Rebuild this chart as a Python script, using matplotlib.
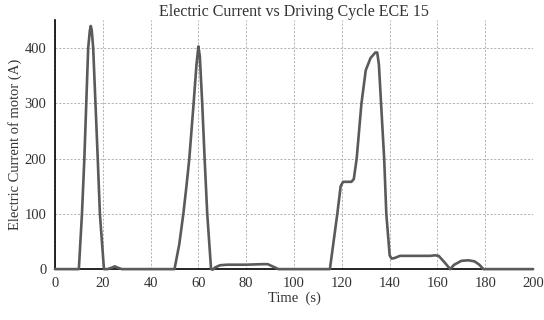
import matplotlib.pyplot as plt

# Zeit (s) und Motorstrom (A)
time_s = [0, 10, 11.3, 12.3, 13.9, 14.6, 15, 15.4, 16, 17.9, 18.8, 20.5,
          22, 24, 25, 26, 28, 49,
          50, 52, 53.7, 55, 56.2, 58, 59.2, 60, 60.6, 61.6, 62.6, 63.7, 65.3,
          66, 67, 69, 72, 80, 87, 89, 91, 93.5, 115,
          118.1, 119.5, 120.5, 124, 125, 126.2, 128.2, 130, 132, 134, 134.8,
          135.5, 136.4, 137.7, 138.6, 140, 140.8, 142, 144.3, 150, 157, 159,
          160.5, 163, 165.3, 167, 170, 172.9, 175.5, 177.5, 179.2, 200]
current_a = [0, 0, 100, 200, 400, 432, 440, 432, 400, 200, 100, 0,
             0, 3, 5, 3, 0, 0,
             0, 45, 100, 150, 200, 300, 370, 403, 385, 300, 200, 100, 0,
             -1, 3, 7, 8, 8, 9, 9, 5, 0, 0,
             100, 150, 158, 158, 163, 200, 300, 360, 382, 392, 392,
             370, 300, 200, 100, 25, 19, 20, 24, 24, 24, 25,
             24, 12, 0, 8, 15, 16, 14, 8, 0, 0]


def main():
    fig, ax = plt.subplots(figsize=(5.44, 3.2), dpi=100)
    plt.rcParams["font.family"] = ["Liberation Serif", "DejaVu Serif"]
    ax.plot(time_s, current_a, color="#5a5a5a", linewidth=1.9,
            solid_joinstyle="round", solid_capstyle="round",
            zorder=5, clip_on=False)

    ax.set_xlim(0, 200)
    ax.set_ylim(0, 450)
    ax.set_xticks(range(0, 201, 20))
    ax.set_yticks(range(0, 401, 100))
    ax.grid(True, color="#a6a6a6", linestyle=(0, (2.5, 2)), linewidth=0.6)
    ax.set_axisbelow(True)
    for side in ("top", "right"):
        ax.spines[side].set_visible(False)
    for side in ("left", "bottom"):
        ax.spines[side].set_color("black")
        ax.spines[side].set_linewidth(1.2)
    ax.tick_params(length=0, pad=6, labelsize=10.5, colors="#333333")
    for lab in ax.get_xticklabels() + ax.get_yticklabels():
        lab.set_family("Liberation Serif")

    ax.set_title("Electric Current vs Driving Cycle ECE 15",
                 family="Liberation Serif", fontsize=11.5, color="#333333", pad=3)
    ax.set_xlabel("Time  (s)", family="Liberation Serif", fontsize=10.5,
                  color="#333333", labelpad=1)
    ax.set_ylabel("Electric Current of motor (A)", family="Liberation Serif",
                  fontsize=10.5, color="#333333", labelpad=2)

    fig.subplots_adjust(left=0.101, right=0.98, bottom=0.159, top=0.936)
    fig.savefig("out.png", dpi=100)


if __name__ == "__main__":
    main()
